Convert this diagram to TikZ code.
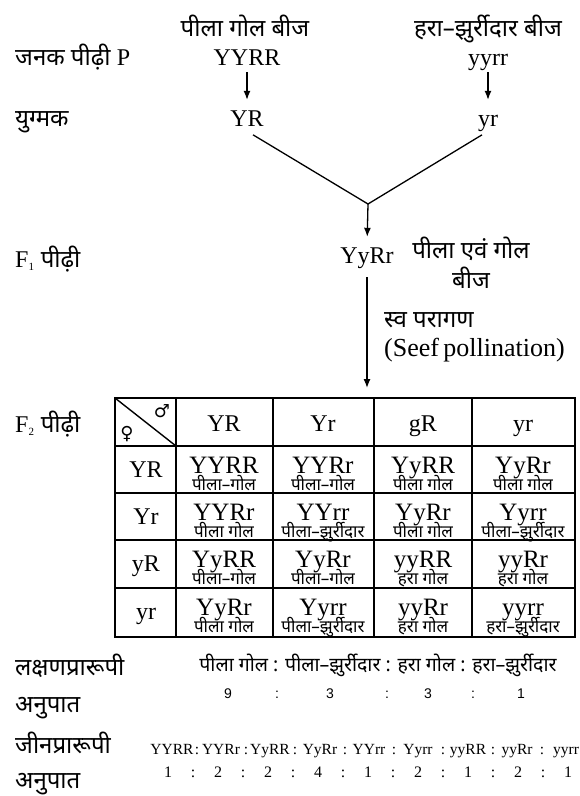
\documentclass[tikz,border=0pt]{standalone}
\usepackage{fontspec}
\setmainfont{Liberation Serif}
\newfontfamily\deva[Script=Devanagari]{Noto Sans}
\newfontfamily\symb{DejaVu Sans}
\newfontfamily\chif{Liberation Sans}
\usetikzlibrary{arrows.meta}
\tikzset{
	fleche/.style={-{Latex[length=9pt,width=7pt]},line width=1.3pt},
	trait/.style={line width=1.3pt},
	grille/.style={line width=1.4pt},
	gros/.style={font=\fontsize{24}{28}\selectfont,anchor=base,inner sep=0pt,text height=17pt,text depth=5pt},
	etiq/.style={font=\deva\fontsize{24}{28}\selectfont,anchor=base west,inner sep=0pt},
	phen/.style={font=\deva\fontsize{17}{19}\selectfont,anchor=base,inner sep=0pt},
}
\begin{document}
\begin{tikzpicture}[x=1pt,y=-1pt]
			\useasboundingbox (0,0) rectangle (579,796);
			% generation P
			\node[phen,font=\deva\fontsize{24}{28}\selectfont] (txtA) at (245,36) {पीला गोल बीज};
			\node[phen,font=\deva\fontsize{24}{28}\selectfont] (txtB) at (488,36) {हरा–झुर्रीदार बीज};
			\node[etiq] (genP) at (15,65) {जनक पीढ़ी {\rmfamily P}};
			\node[gros] (pA) at (247,65) {YYRR};
			\node[gros] (pB) at (488,65) {yyrr};
			\node[etiq] (gam) at (15,126) {युग्मक};
			\node[gros] (gA) at (247,126) {YR};
			\node[gros] (gB) at (488,126) {yr};
			\draw[fleche,shorten <=2pt,shorten >=9pt] (pA.south) -- (gA.north);
			\draw[fleche,shorten <=2pt,shorten >=9pt] (pB.south) -- (gB.north);
			\coordinate (croix) at (368,204);
			\draw[trait,shorten <=7pt,shorten >=7pt] (gA.south) -- (croix) -- (gB.south);
			% F1
			\node[etiq] (genF1) at (15,267) {{\rmfamily F\textsubscript{\fontsize{11}{11}\selectfont 1}} पीढ़ी};
			\node[gros] (f1) at (367,263) {YyRr};
			\node[phen,font=\deva\fontsize{24}{30}\selectfont,align=center,anchor=center] (f1txt) at (471,263) {पीला एवं गोल\\बीज};
			\draw[fleche,shorten >=9pt] (croix) -- (f1.north);
			\coordinate (haut) at (367,398);
			\draw[fleche,shorten <=9pt,shorten >=10pt] (f1.south) -- (haut);
			\node[etiq,align=left,anchor=west,font=\deva\fontsize{24}{29}\selectfont] (auto) at (384,337) {स्व परागण\\{\rmfamily\fontsize{26}{28}\selectfont(Seef\,pollination)}};
			% F2 : tableau
			\node[etiq] (genF2) at (15,432) {{\rmfamily F\textsubscript{\fontsize{11}{11}\selectfont 2}} पीढ़ी};
			\draw[grille] (115,398) rectangle (575,637);
			\foreach \x in {176,273,374,472} \draw[grille] (\x,398) -- (\x,637);
			\foreach \y in {446,493,540,588} \draw[grille] (115,\y) -- (575,\y);
			\draw[grille] (115,398) -- (176,446);
			\node[font=\symb\fontsize{18}{18}\selectfont] (male) at (162,411) {♂};
			\node[font=\symb\fontsize{18}{18}\selectfont] (femelle) at (127,434) {♀};
			\foreach \g/\x [count=\i] in {YR/224,Yr/323,gR/423,yr/523}
				\node[gros] (col\i) at (\x,431) {\g};
			\foreach \g/\y [count=\i] in {YR/477,Yr/524,yR/571,yr/619}
				\node[gros] (lig\i) at (146,\y) {\g};
			\foreach \x/\y/\g/\p [count=\i] in {
				224/446/YYRR/पीला–गोल, 323/446/YYRr/पीला–गोल, 423/446/YyRR/पीला गोल, 523/446/YyRr/पीला गोल,
				224/493/YYRr/पीला गोल, 323/493/YYrr/पीला–झुर्रीदार, 423/493/YyRr/पीला गोल, 523/493/Yyrr/पीला–झुर्रीदार,
				224/540/YyRR/पीला–गोल, 323/540/YyRr/पीला–गोल, 423/540/yyRR/हरा गोल, 523/540/yyRr/हरा गोल,
				224/588/YyRr/पीला गोल, 323/588/Yyrr/पीला–झुर्रीदार, 423/588/yyRr/हरा गोल, 523/588/yyrr/हरा–झुर्रीदार}{
				\node[gros,font=\fontsize{25}{28}\selectfont] (cg\i) at (\x,\y+27) {\g};
				\node[phen] (cp\i) at (\x,\y+44) {\p};}
			% rapports
			\node[etiq,align=left,anchor=west,font=\deva\fontsize{24}{37}\selectfont] (rapPh) at (15,686) {लक्षणप्रारूपी\\अनुपात};
			\node[phen,font=\deva\fontsize{19.5}{22}\selectfont] (phTxt) at (378,671) {पीला गोल : पीला–झुर्रीदार : हरा गोल : हरा–झुर्रीदार};
			\foreach \t/\x [count=\i] in {9/228,:/277,3/330,:/387,3/428,:/473,1/521}
				\node[anchor=base,inner sep=0pt,font=\chif\fontsize{14}{16}\selectfont] (ph\i) at (\x,698) {\t};
			\node[etiq,align=left,anchor=west,font=\deva\fontsize{24}{35}\selectfont] (rapGe) at (15,763) {जीनप्रारूपी\\अनुपात};
			\foreach \t/\x [count=\i] in {YYRR/172,:/197,YYRr/221,:/246,YyRR/270,:/295,YyRr/320,:/345,YYrr/369,:/394,Yyrr/418,:/443,yyRR/468,:/493,yyRr/517,:/542,yyrr/566}
				\node[anchor=base,inner sep=0pt,font=\fontsize{15.5}{17}\selectfont] (ge\i) at (\x,754) {\t};
			\foreach \t/\x [count=\i] in {1/168,:/193,2/218,:/243,2/268,:/293,4/318,:/343,1/368,:/393,2/418,:/443,1/468,:/493,2/518,:/543,1/568}
				\node[anchor=base,inner sep=0pt,font=\fontsize{16}{17}\selectfont] (nb\i) at (\x,777) {\t};
		\end{tikzpicture}
\end{document}
